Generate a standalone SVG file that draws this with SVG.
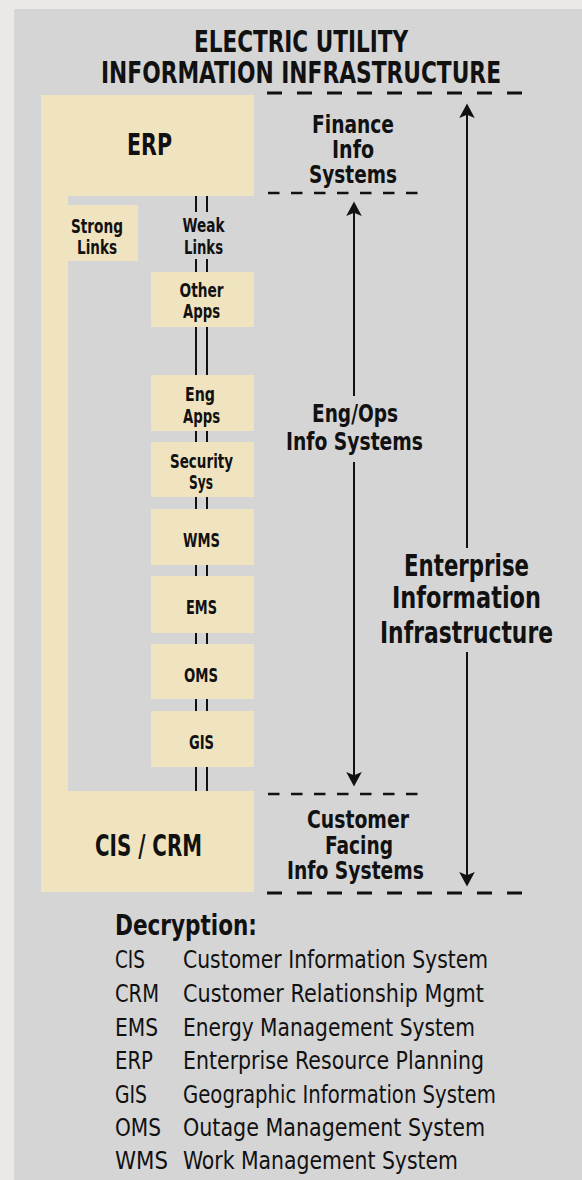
<svg xmlns="http://www.w3.org/2000/svg" width="582" height="1180" viewBox="0 0 582 1180">
  <style>
    .box { fill: #f0e4c0; }
    .t { font-family: "Liberation Sans Narrow", "DejaVu Sans Condensed", "Liberation Sans", sans-serif; font-weight: bold; fill: #111; text-anchor: middle; }
    .title { font-size: 31px; }
    .big { font-size: 31px; }
    .side { font-size: 25px; }
    .ent { font-size: 30px; }
    .lbl { font-size: 20px; }
    .leg { font-family: "Liberation Sans Narrow", "DejaVu Sans Condensed", "Liberation Sans", sans-serif; font-size: 24px; fill: #111; }
    .legh { font-family: "Liberation Sans Narrow", "DejaVu Sans Condensed", "Liberation Sans", sans-serif; font-size: 29px; font-weight: bold; fill: #111; }
    .dash-long { stroke: #111; stroke-width: 3; stroke-dasharray: 15 15; fill: none; }
    .dash-short { stroke: #111; stroke-width: 2.5; stroke-dasharray: 11.5 11.5; fill: none; }
    .arrow { stroke: #111; stroke-width: 2; fill: none; marker-end: url(#head); }
    .weak { stroke: #111; stroke-width: 2; }
  </style>
  <defs>
    <marker id="head" markerUnits="userSpaceOnUse" markerWidth="20" markerHeight="20" viewBox="-12 -8 18 16" refX="0" refY="0" orient="auto">
      <path d="M4,0 L-9,-7 L-6,0 L-9,7 Z" fill="#111"/>
    </marker>
  </defs>

  <!-- page and panel -->
  <rect x="0" y="0" width="582" height="1180" fill="#ebe9e7"/>
  <rect x="14" y="9" width="568" height="1171" fill="#d5d5d5"/>

  <!-- title -->
  <g id="title">
    <text class="t title" x="301" y="52" textLength="214" lengthAdjust="spacingAndGlyphs">ELECTRIC UTILITY</text>
    <text class="t title" x="301" y="83" textLength="400" lengthAdjust="spacingAndGlyphs">INFORMATION INFRASTRUCTURE</text>
  </g>

  <!-- connectors: strong link bar, weak links, range arrows, tier dividers -->
  <g id="connectors">
    <rect class="box" x="41" y="190" width="27" height="610"/>
    <g class="weak">
      <line x1="196" y1="196" x2="196" y2="212"/><line x1="207" y1="196" x2="207" y2="212"/>
      <line x1="196" y1="259" x2="196" y2="272"/><line x1="207" y1="259" x2="207" y2="272"/>
      <line x1="196" y1="327" x2="196" y2="375"/><line x1="207" y1="327" x2="207" y2="375"/>
      <line x1="196" y1="431" x2="196" y2="442"/><line x1="207" y1="431" x2="207" y2="442"/>
      <line x1="196" y1="497" x2="196" y2="509"/><line x1="207" y1="497" x2="207" y2="509"/>
      <line x1="196" y1="565" x2="196" y2="576"/><line x1="207" y1="565" x2="207" y2="576"/>
      <line x1="196" y1="633" x2="196" y2="644"/><line x1="207" y1="633" x2="207" y2="644"/>
      <line x1="196" y1="699" x2="196" y2="711"/><line x1="207" y1="699" x2="207" y2="711"/>
      <line x1="196" y1="767" x2="196" y2="791"/><line x1="207" y1="767" x2="207" y2="791"/>
    </g>
    <line class="dash-long" x1="267" y1="93" x2="523" y2="93"/>
    <line class="dash-short" x1="268" y1="193" x2="421" y2="193"/>
    <line class="dash-short" x1="268" y1="794" x2="421" y2="794"/>
    <line class="dash-long" x1="267" y1="893" x2="523" y2="893"/>
    <line class="arrow" x1="354" y1="396" x2="354" y2="206"/>
    <line class="arrow" x1="354" y1="462" x2="354" y2="782"/>
    <line class="arrow" x1="467" y1="548" x2="467" y2="108"/>
    <line class="arrow" x1="467" y1="652" x2="467" y2="882"/>
  </g>

  <!-- systems -->
  <g id="erp">
    <rect class="box" x="41" y="95" width="213" height="101"/>
    <text class="t big" x="149.5" y="155" textLength="45" lengthAdjust="spacingAndGlyphs">ERP</text>
  </g>
  <g id="cis-crm">
    <rect class="box" x="41" y="791" width="213" height="101"/>
    <text class="t big" x="148.5" y="856" textLength="107" lengthAdjust="spacingAndGlyphs">CIS / CRM</text>
  </g>
  <g id="strong-links">
    <rect class="box" x="68" y="205" width="70" height="56"/>
    <text class="t lbl" x="97" y="233" textLength="52" lengthAdjust="spacingAndGlyphs">Strong</text>
    <text class="t lbl" x="97" y="254" textLength="40" lengthAdjust="spacingAndGlyphs">Links</text>
  </g>
  <g id="weak-links">
    <text class="t lbl" x="203.5" y="232" textLength="42" lengthAdjust="spacingAndGlyphs">Weak</text>
    <text class="t lbl" x="203.5" y="254" textLength="39" lengthAdjust="spacingAndGlyphs">Links</text>
  </g>
  <g id="other-apps">
    <rect class="box" x="151" y="272" width="103" height="55"/>
    <text class="t lbl" x="201.5" y="297" textLength="44" lengthAdjust="spacingAndGlyphs">Other</text>
    <text class="t lbl" x="201.5" y="318" textLength="37" lengthAdjust="spacingAndGlyphs">Apps</text>
  </g>
  <g id="eng-apps">
    <rect class="box" x="151" y="375" width="103" height="56"/>
    <text class="t lbl" x="200" y="401" textLength="30" lengthAdjust="spacingAndGlyphs">Eng</text>
    <text class="t lbl" x="201.5" y="423" textLength="37" lengthAdjust="spacingAndGlyphs">Apps</text>
  </g>
  <g id="security-sys">
    <rect class="box" x="151" y="442" width="103" height="55"/>
    <text class="t lbl" x="201.5" y="468" textLength="63" lengthAdjust="spacingAndGlyphs">Security</text>
    <text class="t lbl" x="201" y="489" textLength="24" lengthAdjust="spacingAndGlyphs">Sys</text>
  </g>
  <g id="wms">
    <rect class="box" x="151" y="509" width="103" height="56"/>
    <text class="t lbl" x="201.5" y="547" textLength="37" lengthAdjust="spacingAndGlyphs">WMS</text>
  </g>
  <g id="ems">
    <rect class="box" x="151" y="576" width="103" height="57"/>
    <text class="t lbl" x="201.5" y="614" textLength="31" lengthAdjust="spacingAndGlyphs">EMS</text>
  </g>
  <g id="oms">
    <rect class="box" x="151" y="644" width="103" height="55"/>
    <text class="t lbl" x="201" y="682" textLength="34" lengthAdjust="spacingAndGlyphs">OMS</text>
  </g>
  <g id="gis">
    <rect class="box" x="151" y="711" width="103" height="56"/>
    <text class="t lbl" x="201.5" y="749" textLength="25" lengthAdjust="spacingAndGlyphs">GIS</text>
  </g>

  <!-- tier labels -->
  <g id="finance-tier">
    <text class="t side" x="353" y="133" textLength="82" lengthAdjust="spacingAndGlyphs">Finance</text>
    <text class="t side" x="353" y="158" textLength="42" lengthAdjust="spacingAndGlyphs">Info</text>
    <text class="t side" x="353" y="183" textLength="88" lengthAdjust="spacingAndGlyphs">Systems</text>
  </g>
  <g id="engops-tier">
    <text class="t side" x="355" y="422" textLength="86" lengthAdjust="spacingAndGlyphs">Eng/Ops</text>
    <text class="t side" x="354.5" y="450" textLength="137" lengthAdjust="spacingAndGlyphs">Info Systems</text>
  </g>
  <g id="customer-tier">
    <text class="t side" x="358" y="828" textLength="102" lengthAdjust="spacingAndGlyphs">Customer</text>
    <text class="t side" x="359" y="854" textLength="68" lengthAdjust="spacingAndGlyphs">Facing</text>
    <text class="t side" x="355.5" y="879" textLength="137" lengthAdjust="spacingAndGlyphs">Info Systems</text>
  </g>
  <g id="enterprise">
    <text class="t ent" x="466.5" y="576" textLength="125" lengthAdjust="spacingAndGlyphs">Enterprise</text>
    <text class="t ent" x="466.5" y="608" textLength="149" lengthAdjust="spacingAndGlyphs">Information</text>
    <text class="t ent" x="466.5" y="643" textLength="173" lengthAdjust="spacingAndGlyphs">Infrastructure</text>
  </g>

  <!-- abbreviations -->
  <g id="legend">
    <text class="legh" x="115" y="935" textLength="142" lengthAdjust="spacingAndGlyphs">Decryption:</text>
    <text class="leg" x="115" y="968" textLength="30" lengthAdjust="spacingAndGlyphs">CIS</text>
    <text class="leg" x="183" y="968" textLength="305" lengthAdjust="spacingAndGlyphs">Customer Information System</text>
    <text class="leg" x="115" y="1002" textLength="44" lengthAdjust="spacingAndGlyphs">CRM</text>
    <text class="leg" x="183" y="1002" textLength="301" lengthAdjust="spacingAndGlyphs">Customer Relationship Mgmt</text>
    <text class="leg" x="115" y="1036" textLength="43" lengthAdjust="spacingAndGlyphs">EMS</text>
    <text class="leg" x="183" y="1036" textLength="292" lengthAdjust="spacingAndGlyphs">Energy Management System</text>
    <text class="leg" x="115" y="1069" textLength="38" lengthAdjust="spacingAndGlyphs">ERP</text>
    <text class="leg" x="183" y="1069" textLength="301" lengthAdjust="spacingAndGlyphs">Enterprise Resource Planning</text>
    <text class="leg" x="115" y="1103" textLength="32" lengthAdjust="spacingAndGlyphs">GIS</text>
    <text class="leg" x="183" y="1103" textLength="313" lengthAdjust="spacingAndGlyphs">Geographic Information System</text>
    <text class="leg" x="115" y="1136" textLength="46" lengthAdjust="spacingAndGlyphs">OMS</text>
    <text class="leg" x="183" y="1136" textLength="302" lengthAdjust="spacingAndGlyphs">Outage Management System</text>
    <text class="leg" x="115" y="1169" textLength="53" lengthAdjust="spacingAndGlyphs">WMS</text>
    <text class="leg" x="183" y="1169" textLength="275" lengthAdjust="spacingAndGlyphs">Work Management System</text>
  </g>
</svg>
